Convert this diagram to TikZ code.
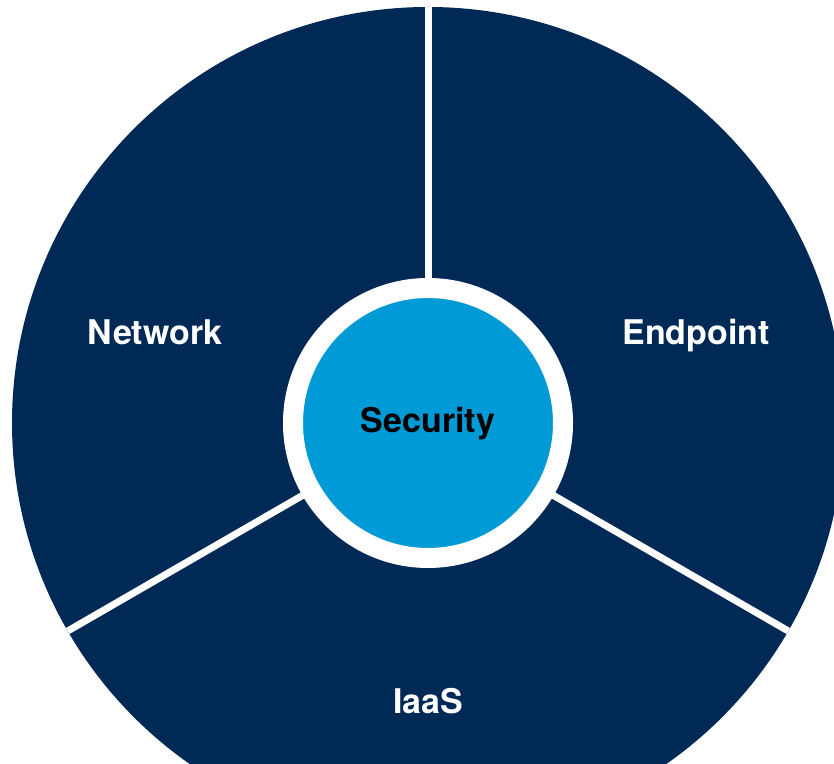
\documentclass[tikz,border=0pt]{standalone}
\usepackage{fontspec}
\setmainfont{TeX Gyre Heros}
\usepackage{tikz}
\usetikzlibrary{calc}
\definecolor{ringNavy}{RGB}{0,41,86}
\definecolor{coreBlue}{RGB}{0,154,214}

\begin{document}
\begin{tikzpicture}[x=0.5pt, y=0.5pt,
    sector/.style={font=\fontsize{17}{19}\selectfont\bfseries, text=white, text depth=0pt, inner sep=0pt},
    divider/.style={white, line width=3.5pt},
    hub/.style={circle, fill=coreBlue, draw=white, line width=10pt, minimum size=135pt, inner sep=0pt}]
    \useasboundingbox (0,0) rectangle (834,764);
    \clip (0,0) rectangle (834,764);
    \coordinate (c) at (428,341);
    \fill[ringNavy] (c) circle (416);
    % three white spokes splitting the disc
    \foreach \a/\n in {90/top, 210/left, 330/right} {
        \coordinate (rim-\n) at ($(c)+(\a:416)$);
        \draw[divider] (c) -- (rim-\n);
    }
    \node[hub] (hub) at (c) {};
    \node[sector, text=black] (sec) at (428,344) {Security};
    \node[sector] (net) at (155,432) {Network};
    \node[sector] (end) at (696,432) {Endpoint};
    \node[sector] (iaas) at (428,63) {IaaS};
\end{tikzpicture}
\end{document}
